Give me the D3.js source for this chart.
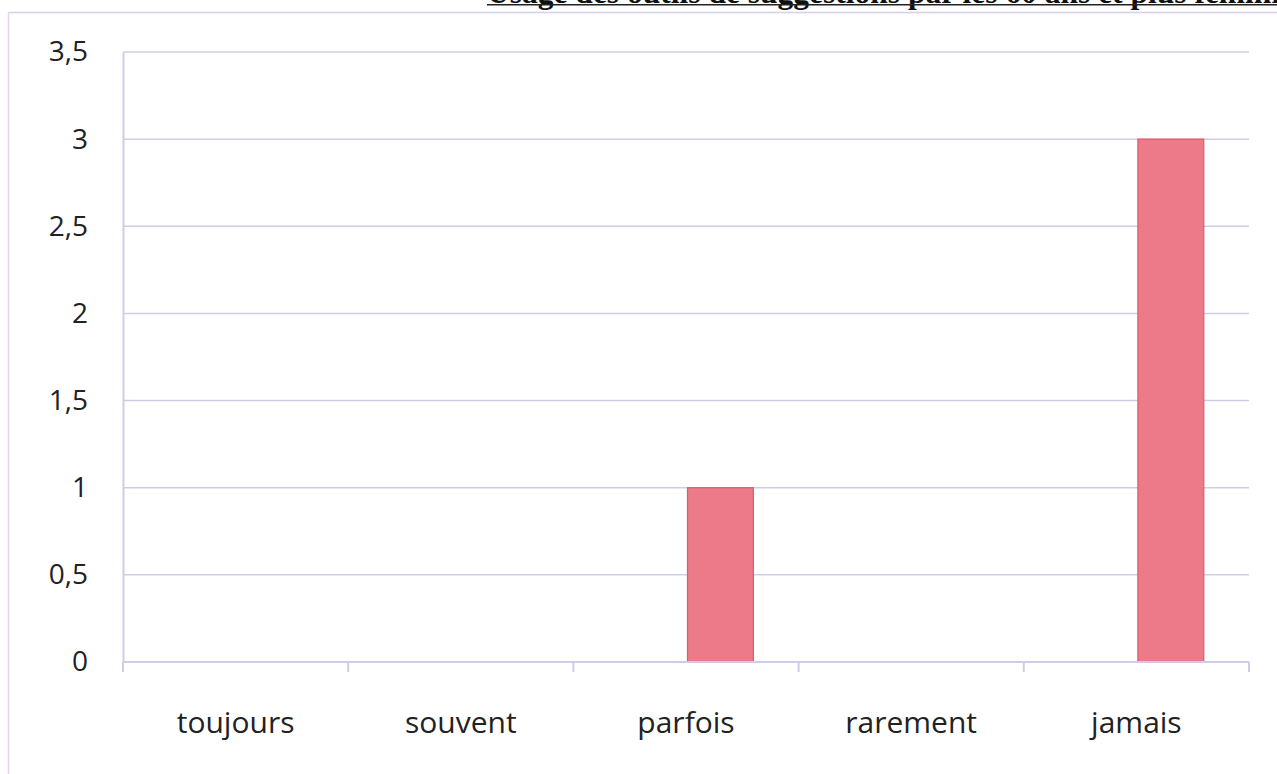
<!DOCTYPE html>
<html>
<head>
<meta charset="utf-8">
<script src="https://cdn.jsdelivr.net/npm/d3@7/dist/d3.min.js"></script>
<style>
  html, body { margin: 0; padding: 0; background: #fff; }
  svg { display: block; }
</style>
</head>
<body>
<svg id="chart" width="1277" height="774"></svg>
<script>
// Responses by frequency; two clustered series, only the second has counts
const categories = ["toujours", "souvent", "parfois", "rarement", "jamais"];
const seriesA = [0, 0, 0, 0, 0];
const seriesB = [0, 0, 1, 0, 3];
const yTicks = [0, 0.5, 1, 1.5, 2, 2.5, 3, 3.5];
const title = "Usage des outils de suggestions par les 60 ans et plus féminin";

const svg = d3.select("#chart");
const margin = { left: 123, right: 1249, top: 52, bottom: 662 };

const x = d3.scaleBand().domain(categories).range([margin.left, margin.right]).padding(0);
const y = d3.scaleLinear().domain([0, 3.5]).range([margin.bottom, margin.top]);

// inner cluster scale: two bars per category, Excel-like gap
const gapRatio = 1.42;
const barW = x.bandwidth() / (2 + gapRatio);
const xs = d3.scaleOrdinal().domain(["A", "B"]).range([-barW + 1.5, 1.5]);

const gridColor = "#cfcde6";
const labelFont = "'Open Sans', 'DejaVu Sans', sans-serif";

// chart frame
svg.append("line").attr("x1", 8.5).attr("x2", 1277).attr("y1", 12.5).attr("y2", 12.5)
  .attr("stroke", "#d6d0ea").attr("stroke-width", 1.5);
svg.append("line").attr("x1", 8.5).attr("x2", 8.5).attr("y1", 12.5).attr("y2", 774)
  .attr("stroke", "#e2d6ea").attr("stroke-width", 1.5);

// title (underlined, running past the right edge)
svg.append("text")
  .attr("x", 487).attr("y", 2.5)
  .attr("font-family", "'Liberation Serif', 'Times New Roman', serif")
  .attr("font-weight", "bold").attr("font-size", 31.5)
  .attr("fill", "#111")
  .text(title);
svg.append("line").attr("x1", 487).attr("x2", 1277).attr("y1", 4.8).attr("y2", 4.8)
  .attr("stroke", "#222").attr("stroke-width", 1.5);

// horizontal gridlines
svg.append("g")
  .selectAll("line")
  .data(yTicks.filter(d => d > 0))
  .join("line")
  .attr("x1", margin.left).attr("x2", margin.right)
  .attr("y1", d => y(d)).attr("y2", d => y(d))
  .attr("stroke", gridColor).attr("stroke-width", 1.5);

// y axis
const yAxis = svg.append("g")
  .attr("transform", `translate(${margin.left},0)`)
  .call(d3.axisLeft(y).tickValues(yTicks).tickSize(0).tickPadding(35)
    .tickFormat(d => String(d).replace(".", ",")));
yAxis.select(".domain").attr("stroke", gridColor).attr("stroke-width", 2);
yAxis.selectAll("text")
  .attr("font-family", labelFont)
  .attr("font-size", 28).attr("fill", "#222");

// bars
const bars = svg.append("g");
categories.forEach((c, i) => {
  [["A", seriesA[i]], ["B", seriesB[i]]].forEach(([s, v]) => {
    if (v <= 0) return;
    bars.append("rect")
      .attr("x", x(c) + x.bandwidth() / 2 + xs(s))
      .attr("y", y(v))
      .attr("width", barW)
      .attr("height", y(0) - y(v))
      .attr("fill", "#ec7a88")
      .attr("stroke", "#e3566e").attr("stroke-width", 1.2);
  });
});

// x axis with boundary ticks
const boundaries = categories.map(c => x(c)).concat([margin.right]);
const xg = svg.append("g");
xg.append("line").attr("x1", margin.left).attr("x2", margin.right)
  .attr("y1", y(0)).attr("y2", y(0))
  .attr("stroke", gridColor).attr("stroke-width", 2);
xg.selectAll("line.tick").data(boundaries).join("line")
  .attr("class", "tick")
  .attr("x1", d => d).attr("x2", d => d)
  .attr("y1", y(0)).attr("y2", y(0) + 10)
  .attr("stroke", gridColor).attr("stroke-width", 2);
xg.selectAll("text").data(categories).join("text")
  .attr("x", d => x(d) + x.bandwidth() / 2)
  .attr("y", 733)
  .attr("text-anchor", "middle")
  .attr("font-family", labelFont)
  .attr("font-size", 30).attr("fill", "#222")
  .text(d => d);
</script>
</body>
</html>
